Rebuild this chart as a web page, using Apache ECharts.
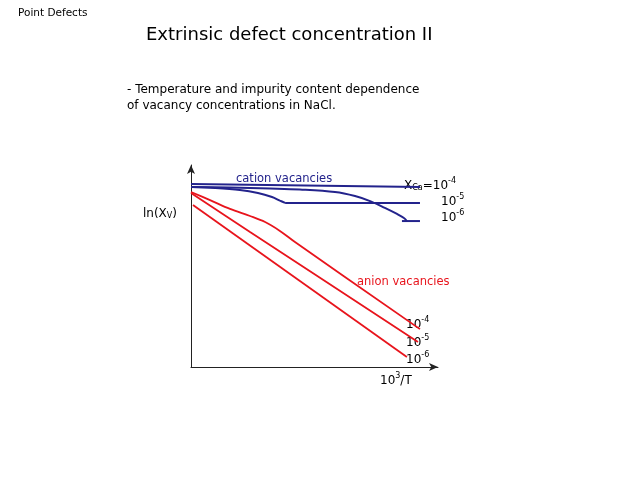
<!DOCTYPE html>
<html>
<head>
<meta charset="utf-8">
<script src="https://cdn.jsdelivr.net/npm/echarts@6/dist/echarts.min.js"></script>
<style>
html,body{margin:0;padding:0;background:#fff;}
#chart{width:640px;height:480px;}
</style>
</head>
<body>
<div id="chart"></div>
<script>
// ---- data (x: 10^3/T, arbitrary units; y: ln(Xv), arbitrary units) ----
const cation1e4 = [[0, 7.25], [9.27, 7.13]];
const cation1e5 = [[0, 7.13], [0.97, 7.09], [1.98, 7.01], [2.71, 6.89], [3.28, 6.73], [3.60, 6.59], [3.81, 6.50]];
const cation1e5Flat = [[3.81, 6.50], [9.27, 6.50]];
const cation1e6 = [[0, 7.13], [1.58, 7.11], [3.20, 7.07], [4.41, 7.03], [5.83, 6.93], [6.64, 6.77], [7.25, 6.57], [7.85, 6.30], [8.34, 6.06], [8.62, 5.90], [8.74, 5.78]];
const cation1e6Flat = [[8.54, 5.78], [9.27, 5.78]];
const anion1e4 = [[0, 6.93], [0.77, 6.61], [1.58, 6.26], [2.39, 5.98], [3.00, 5.74], [3.60, 5.39], [4.21, 4.95], [9.27, 1.50]];
const anion1e5 = [[0, 6.89], [2.39, 5.35], [9.19, 0.99]];
const anion1e6 = [[0.08, 6.42], [8.74, 0.40]];
const impurityExponents = ['-4', '-5', '-6'];
const xRange = [0, 10];
const yRange = [0, 8];

const BLUE = '#23238c';
const RED = '#e8141c';
const FONT = 'DejaVu Sans';

function line(data, color, width, smooth) {
  return {
    type: 'line', data: data, showSymbol: false, symbol: 'none',
    smooth: smooth ? 0.35 : false,
    lineStyle: {color: color, width: width}, silent: true, animation: false
  };
}

function txt(x, y, text, size, color, rich) {
  return {
    type: 'text', x: x, y: y, silent: true,
    style: {
      text: text, fill: color || '#000', font: size + 'px "' + FONT + '"',
      fontFamily: FONT, fontSize: size,
      align: 'left', verticalAlign: 'middle', rich: rich
    }
  };
}

function supRich(size, color) {
  return {
    b: {fontSize: size, fontFamily: FONT, color: color, lineHeight: size + 3, verticalAlign: 'bottom'},
    sup: {fontSize: size - 4, fontFamily: FONT, color: color, lineHeight: size - 5, verticalAlign: 'top'},
    sub: {fontSize: size - 4, fontFamily: FONT, color: color, lineHeight: size - 5, verticalAlign: 'bottom'}
  };
}

const chart = echarts.init(document.getElementById('chart'), null, {renderer: 'canvas'});
const option = {
  backgroundColor: '#fff',
  animation: false,
  grid: {left: 191, top: 165, width: 247, height: 202, containLabel: false},
  xAxis: {
    type: 'value', min: xRange[0], max: xRange[1],
    axisLine: {show: true, onZero: false, symbol: ['none', 'arrow'], symbolSize: [6, 9], lineStyle: {color: '#222', width: 1}},
    axisTick: {show: false}, axisLabel: {show: false}, splitLine: {show: false}
  },
  yAxis: {
    type: 'value', min: yRange[0], max: yRange[1],
    axisLine: {show: true, onZero: false, symbol: ['none', 'arrow'], symbolSize: [6, 9], lineStyle: {color: '#222', width: 1}},
    axisTick: {show: false}, axisLabel: {show: false}, splitLine: {show: false}
  },
  series: [
    line(cation1e4, BLUE, 2, false),
    line(cation1e5, BLUE, 2, true),
    line(cation1e5Flat, BLUE, 2, false),
    line(cation1e6, BLUE, 2, true),
    line(cation1e6Flat, BLUE, 2, false),
    line(anion1e4, RED, 1.8, true),
    line(anion1e5, RED, 1.8, true),
    line(anion1e6, RED, 1.8, false)
  ],
  graphic: [
    txt(18, 13, 'Point Defects', 10.5, '#000'),
    txt(146, 35, 'Extrinsic defect concentration II', 18, '#000'),
    txt(127, 90, '- Temperature and impurity content dependence', 12, '#000'),
    txt(127, 106, 'of vacancy concentrations in NaCl.', 12, '#000'),
    txt(143, 212, '{b|ln(X}{sub|V}{b|)}', 12, '#000', supRich(12, '#000')),
    txt(236, 179, 'cation vacancies', 11.5, BLUE),
    txt(404, 184, '{b|X}{sub|Ca}{b|=10}{sup|' + impurityExponents[0] + '}', 12, '#000', supRich(12, '#000')),
    txt(441, 200, '{b|10}{sup|' + impurityExponents[1] + '}', 12, '#000', supRich(12, '#000')),
    txt(441, 216, '{b|10}{sup|' + impurityExponents[2] + '}', 12, '#000', supRich(12, '#000')),
    txt(357, 282, 'anion vacancies', 11.5, RED),
    txt(406, 323, '{b|10}{sup|' + impurityExponents[0] + '}', 12, '#000', supRich(12, '#000')),
    txt(406, 341, '{b|10}{sup|' + impurityExponents[1] + '}', 12, '#000', supRich(12, '#000')),
    txt(406, 358, '{b|10}{sup|' + impurityExponents[2] + '}', 12, '#000', supRich(12, '#000')),
    txt(380, 379, '{b|10}{sup|3}{b|/T}', 12, '#000', supRich(12, '#000'))
  ]
};
chart.setOption(option);
</script>
</body>
</html>
